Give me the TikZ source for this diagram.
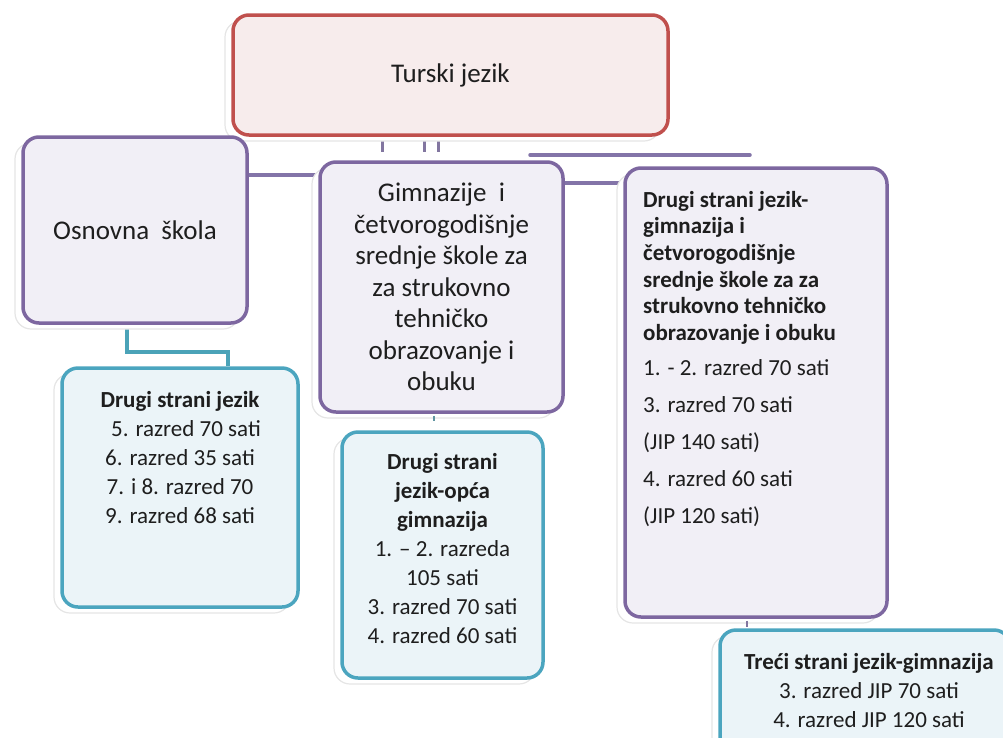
\documentclass[tikz,border=0pt]{standalone}
\usepackage{fontspec}
\setmainfont{Carlito}
\usetikzlibrary{shadows,backgrounds}
\definecolor{redb}{HTML}{C0504D}
\definecolor{redf}{HTML}{F7ECEC}
\definecolor{purb}{HTML}{7D67A0}
\definecolor{purf}{HTML}{F1EFF6}
\definecolor{teab}{HTML}{4BA5BF}
\definecolor{teaf}{HTML}{EBF4F8}
\definecolor{conp}{HTML}{8374A8}
\definecolor{cont}{HTML}{4BA3B8}
\definecolor{txtc}{HTML}{1E1E1E}
\begin{document}
\begin{tikzpicture}[x=1pt,y=-1pt,
  box/.style={rectangle, rounded corners=16pt, line width=3.5pt, inner sep=0pt, text=txtc,
    general shadow={shadow xshift=-8pt, shadow yshift=-6pt, fill=white, draw=black!10, line width=1.2pt}},
  redbox/.style={box, draw=redb, fill=redf},
  purbox/.style={box, draw=purb, fill=purf},
  teabox/.style={box, draw=teab, fill=teaf},
  bigtxt/.style={font=\fontsize{27}{31.5}\selectfont, align=center},
  txt/.style={inner sep=0pt, text=txtc, font=\fontsize{23}{29}\selectfont, align=center},
  pconn/.style={draw=conp, line width=3.5pt},
  stub/.style={draw=conp!80!gray, line width=3pt},
  tconn/.style={draw=cont, line width=3.5pt}
]
\useasboundingbox (0,0) rectangle (1003,737);

% boxes
\node[redbox, minimum width=435pt, minimum height=120pt, bigtxt] (top) at (450.5,75) {Turski jezik};
\node[purbox, minimum width=224pt, minimum height=186pt, bigtxt] (osn) at (135,230) {Osnovna\ \ škola};
\node[purbox, minimum width=243pt, minimum height=250pt, bigtxt] (gim) at (441.5,287)
  {Gimnazije\ \ i\\četvorogodišnje\\srednje škole za\\za strukovno\\tehničko\\obrazovanje i\\obuku};
\node[purbox, minimum width=262pt, minimum height=449pt] (rb) at (756,392.5) {};
\node[teabox, minimum width=236pt, minimum height=239pt] (lb) at (180,487.5) {};
\node[teabox, minimum width=201pt, minimum height=246pt] (mb) at (442.5,555) {};
\node[teabox, minimum width=290pt, minimum height=130pt] (tb) at (865,695) {};

% texts
\node[txt, anchor=north] (lbt) at (180,391)
  {\textbf{Drugi strani jezik}\\\hspace*{12pt}5. razred 70 sati\\6. razred 35 sati\\7. i 8. razred 70\\9. razred 68 sati};
\node[txt, anchor=north] (mbt) at (442.5,453)
  {\textbf{Drugi strani}\\\textbf{jezik-opća}\\\textbf{gimnazija}\\1. – 2. razreda\\105 sati\\3. razred 70 sati\\4. razred 60 sati};
\node[txt, anchor=north west, align=left, font=\fontsize{23}{26.6}\selectfont] (rbt) at (643,191)
  {\textbf{Drugi strani jezik-}\\\textbf{gimnazija i}\\\textbf{četvorogodišnje}\\\textbf{srednje škole za za}\\\textbf{strukovno tehničko}\\\textbf{obrazovanje i obuku}\\[8.4pt]
   1. - 2. razred 70 sati\\[10.4pt]3. razred 70 sati\\[10.4pt](JIP 140 sati)\\[10.4pt]4. razred 60 sati\\[10.4pt](JIP 120 sati)};
\node[txt, anchor=north] (tbt) at (869,653)
  {\textbf{Treći strani jezik-gimnazija}\\3. razred JIP 70 sati\\4. razred JIP 120 sati};

% connectors
\coordinate (s1) at (382,152);
\coordinate (s2) at (424,152);
\coordinate (s3) at (438,152);
\coordinate (hA) at (300,175);
\coordinate (hB0) at (530,155);
\coordinate (hB) at (750,155);
\coordinate (hC) at (600,183);
\coordinate (tA) at (127,352);
\coordinate (tB) at (228,352);
\coordinate (ms) at (434,421);
\coordinate (rs) at (747,627);
\begin{scope}[on background layer]
  \draw[stub] (s1 |- top.south) -- (s1);
  \draw[stub] (s2 |- top.south) -- (s2);
  \draw[stub] (s3 |- top.south) -- (s3);
  \draw[pconn] (hA -| osn.east) -- (hA -| gim.west);
  \draw[pconn, line cap=round] (hB0) -- (hB);
  \draw[pconn] (hC -| gim.east) -- (hC -| rb.west);
  \draw[tconn] (tA |- osn.south) -- (tA) -- (tB) -- (tB |- lb.north);
\end{scope}
\draw[draw=cont!60!gray, line width=2.5pt] ([yshift=-2pt]ms |- gim.south) -- (ms);
\draw[stub, line width=2pt] ([yshift=-2pt]rs |- rb.south) -- (rs);
\end{tikzpicture}
\end{document}
